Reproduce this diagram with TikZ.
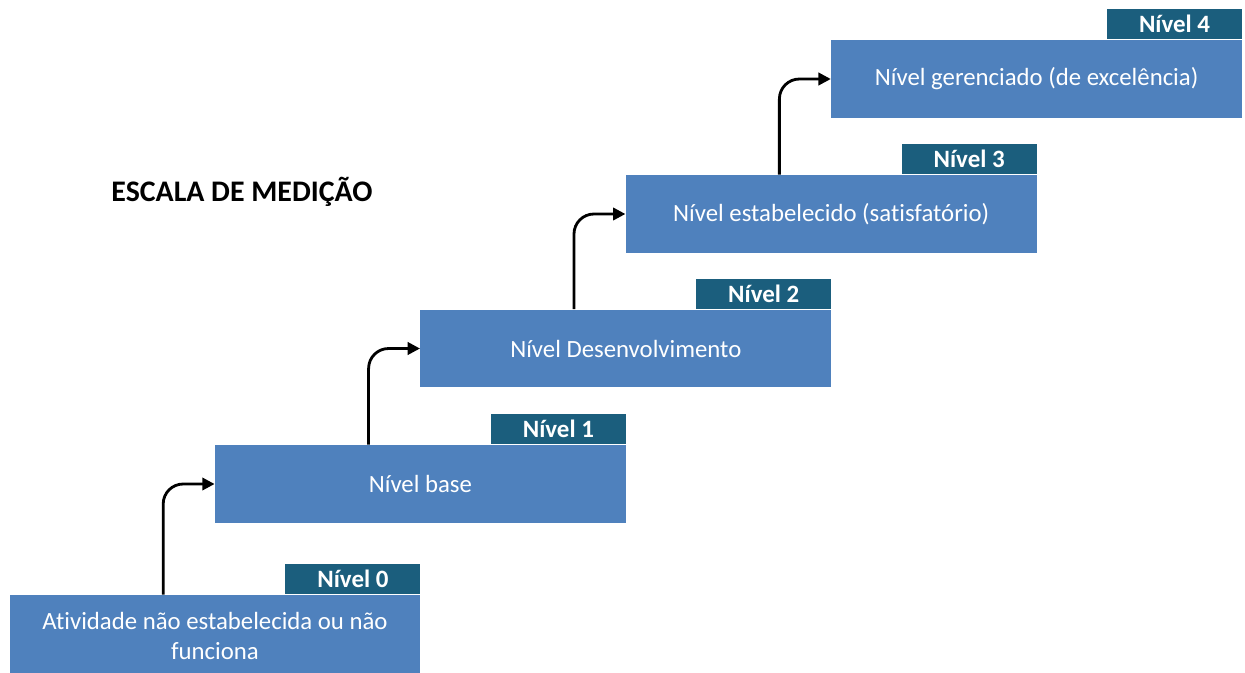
\documentclass[tikz,border=0pt]{standalone}
\usepackage{fontspec}
\setmainfont{Carlito}[RawFeature={-liga}]
\usetikzlibrary{arrows.meta,positioning,calc}
\definecolor{boxblue}{HTML}{4F81BD}
\definecolor{tabteal}{HTML}{1B5E7D}
\tikzset{
  levelbox/.style={fill=boxblue, text=white, minimum width=8.22cm, minimum height=1.56cm,
    inner sep=0pt, align=center, font=\fontsize{14.1}{17}\selectfont},
  leveltab/.style={fill=tabteal, text=white, minimum width=2.7cm, minimum height=0.6cm,
    inner sep=0pt, anchor=south east, font=\fontsize{14.2}{15}\selectfont\bfseries},
  stepline/.style={-{Triangle[length=7pt,width=7pt]}, line width=1.6pt, rounded corners=0.4cm}
}
\begin{document}
\begin{tikzpicture}[x=0.02cm,y=-0.02cm]
  \useasboundingbox (0,0) rectangle (1245,673);
  \node[font=\fontsize{17}{20}\selectfont\bfseries] (title) at (242,192) {ESCALA DE MEDIÇÃO};
  % levels
  \node[levelbox, minimum height=1.64cm] (b0) at (215,636) {Atividade não estabelecida ou não\\funciona};
  \foreach \i/\y/\txt in {1/484/{Nível base},2/348.5/{Nível Desenvolvimento},
      3/214/{Nível estabelecido (satisfatório)},4/79/{Nível gerenciado (de excelência)}}
  {
    \node[levelbox] (b\i) at (215+205.4*\i,\y) {\txt};
  }
  \foreach \i in {0,...,4}
  {
    \node[leveltab] (t\i) at (b\i.north east) {Nível \i};
  }
  % steps
  \foreach \i [evaluate=\i as \j using int(\i+1)] in {0,...,3}
  {
    \draw[stepline] ($(b\i.north west)+(154,0)$) |- (b\j.west);
  }
\end{tikzpicture}
\end{document}
